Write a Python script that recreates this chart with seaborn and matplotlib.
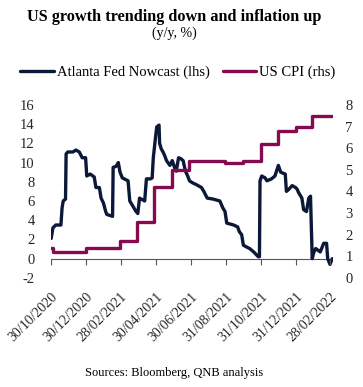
"""
US growth vs inflation - Atlanta Fed Nowcast and US CPI
"""

import pandas as pd
import matplotlib
matplotlib.use("Agg")
import matplotlib.pyplot as plt
import seaborn as sns

# Atlanta Fed GDPNow nowcast (lhs, %)
nowcast_dates = [
    "2020-10-30", "2020-11-02", "2020-11-07", "2020-11-16", "2020-11-18", "2020-11-20",
    "2020-11-24", "2020-11-25", "2020-11-28", "2020-12-07", "2020-12-12", "2020-12-18",
    "2020-12-23", "2020-12-29", "2020-12-31", "2021-01-06", "2021-01-13", "2021-01-16",
    "2021-01-22", "2021-01-25", "2021-01-29", "2021-02-02", "2021-02-04", "2021-02-14",
    "2021-02-15", "2021-02-20", "2021-02-24", "2021-02-27", "2021-03-03", "2021-03-13",
    "2021-03-16", "2021-03-20", "2021-03-27", "2021-03-30", "2021-04-02", "2021-04-11",
    "2021-04-14", "2021-04-21", "2021-04-24", "2021-04-26", "2021-04-30", "2021-05-02",
    "2021-05-06", "2021-05-07", "2021-05-10", "2021-05-13", "2021-05-16", "2021-05-19",
    "2021-05-25", "2021-05-29", "2021-06-02", "2021-06-05", "2021-06-09", "2021-06-13",
    "2021-06-17", "2021-06-21", "2021-06-25", "2021-06-28", "2021-07-03", "2021-07-10",
    "2021-07-19", "2021-07-23", "2021-07-29", "2021-08-08", "2021-08-20", "2021-08-25",
    "2021-08-29", "2021-09-01", "2021-09-13", "2021-09-20", "2021-09-23", "2021-09-27",
    "2021-09-30", "2021-10-06", "2021-10-11", "2021-10-18", "2021-10-26", "2021-10-28",
    "2021-10-29", "2021-11-01", "2021-11-07", "2021-11-10", "2021-11-18", "2021-11-24",
    "2021-11-30", "2021-12-04", "2021-12-12", "2021-12-14", "2021-12-18", "2021-12-24",
    "2021-12-30", "2022-01-02", "2022-01-04", "2022-01-10", "2022-01-13", "2022-01-18",
    "2022-01-22", "2022-01-25", "2022-01-28", "2022-01-31", "2022-02-03", "2022-02-11",
    "2022-02-17", "2022-02-22", "2022-02-24", "2022-02-28", "2022-03-04",
]
nowcast_values = [
    2.1, 3.2, 3.5, 3.5, 5.3, 6.0,
    6.2, 10.9, 11.1, 11.1, 11.3, 11.1,
    10.5, 10.5, 8.6, 8.8, 8.5, 7.4,
    7.4, 6.3, 5.8, 4.9, 4.6, 4.4,
    9.5, 9.6, 10.0, 9.0, 8.4, 8.1,
    6.0, 5.6, 4.9, 4.7, 6.3, 6.0,
    8.3, 8.3, 8.4, 10.5, 12.7, 13.7,
    13.9, 12.0, 11.4, 11.1, 10.7, 10.2,
    9.7, 10.2, 9.5, 9.1, 10.5, 10.4,
    10.2, 9.1, 8.6, 8.1, 7.9, 7.7,
    7.4, 7.0, 6.3, 6.2, 6.0, 5.3,
    4.9, 3.7, 3.5, 3.3, 2.8, 2.5,
    1.4, 1.2, 1.05, 0.7, 0.2, 0.2,
    8.1, 8.6, 8.4, 8.1, 8.3, 8.6,
    9.7, 9.0, 8.8, 7.0, 7.2, 7.6,
    7.4, 7.2, 6.9, 6.3, 5.1, 4.9,
    6.3, 6.5, 0.0, 0.7, 1.05, 0.7,
    1.6, 1.6, 0.0, -0.6, 0.0,
]

# US CPI (rhs, % y/y)
cpi_dates = [
    "2020-10-30", "2020-11-03", "2020-12-29", "2021-02-27", "2021-03-29", "2021-04-27",
    "2021-05-28", "2021-06-28", "2021-08-29", "2021-09-29", "2021-10-30", "2021-11-29",
    "2021-12-30", "2022-01-28", "2022-03-04",
]
cpi_values = [1.4, 1.2, 1.4, 1.7, 2.6, 4.2, 5.0, 5.4, 5.3, 5.4, 6.2, 6.8, 7.0, 7.5, 7.5]

tick_dates = [
    "2020-10-30", "2020-12-30", "2021-02-28", "2021-04-30", "2021-06-30",
    "2021-08-31", "2021-10-31", "2021-12-31", "2022-02-28",
]

navy = "#0b1838"
maroon = "#860a4f"

nowcast = pd.DataFrame({"date": pd.to_datetime(nowcast_dates), "value": nowcast_values})
cpi = pd.DataFrame({"date": pd.to_datetime(cpi_dates), "value": cpi_values})
ticks = pd.to_datetime(tick_dates)

sns.set_theme(style="white")
plt.rcParams["font.family"] = ["Liberation Serif", "DejaVu Serif"]
plt.rcParams["text.color"] = "black"
plt.rcParams["axes.unicode_minus"] = False

fig = plt.figure(figsize=(3.63, 3.87), dpi=100)
ax = fig.add_axes([0.141, 0.282, 0.776, 0.447])
ax2 = ax.twinx()

sns.lineplot(data=nowcast, x="date", y="value", ax=ax, color=navy, linewidth=2.4,
             label="Atlanta Fed Nowcast (lhs)", legend=False)
sns.lineplot(data=cpi, x="date", y="value", ax=ax2, color=maroon, linewidth=2.4,
             drawstyle="steps-post", label="US CPI (rhs)", legend=False)

# zero line with downward tick marks
ax.axhline(0, color="#555555", linewidth=0.8, zorder=0)
ax.plot(ticks, [0] * len(ticks), linestyle="none", marker=3, markersize=4,
        color="#555555", markeredgewidth=0.8)

ax.set_xlim(pd.Timestamp("2020-10-30"), pd.Timestamp("2022-03-05"))
ax.set_ylim(-2, 16)
ax.set_yticks(range(-2, 17, 2))
ax2.set_ylim(0, 8)
ax2.set_yticks(range(0, 9))

ax.set_xticks(ticks)
ax.set_xticklabels([d.strftime("%d/%m/%Y") for d in ticks], rotation=45,
                   ha="right", rotation_mode="anchor", fontsize=10)
ax.tick_params(axis="x", length=0, pad=9)
ax.tick_params(axis="y", length=0, pad=12, labelsize=10.5)
ax2.tick_params(axis="y", length=0, pad=9, labelsize=10.5)
ax.set_xlabel("")
ax.set_ylabel("")
ax2.set_ylabel("")

for a in (ax, ax2):
    for s in a.spines.values():
        s.set_visible(False)
    a.grid(False)

fig.text(0.48, 0.957, "US growth trending down and inflation up", ha="center",
         va="center", fontsize=11.7, fontweight="bold")
fig.text(0.48, 0.913, "(y/y, %)", ha="center", va="center", fontsize=10)

h1, l1 = ax.get_legend_handles_labels()
h2, l2 = ax2.get_legend_handles_labels()
h1 = [h for h, l in zip(h1, l1) if l]
l1 = [l for l in l1 if l]
fig.legend(h1 + h2, l1 + l2, loc="center", bbox_to_anchor=(0.49, 0.813), ncol=2,
           frameon=False, fontsize=10.5, handlelength=2.3, handletextpad=0.2,
           columnspacing=0.9)

fig.text(0.48, 0.036, "Sources: Bloomberg, QNB analysis", ha="center", va="center",
         fontsize=9)

plt.savefig("out.png", dpi=100)
plt.close()
